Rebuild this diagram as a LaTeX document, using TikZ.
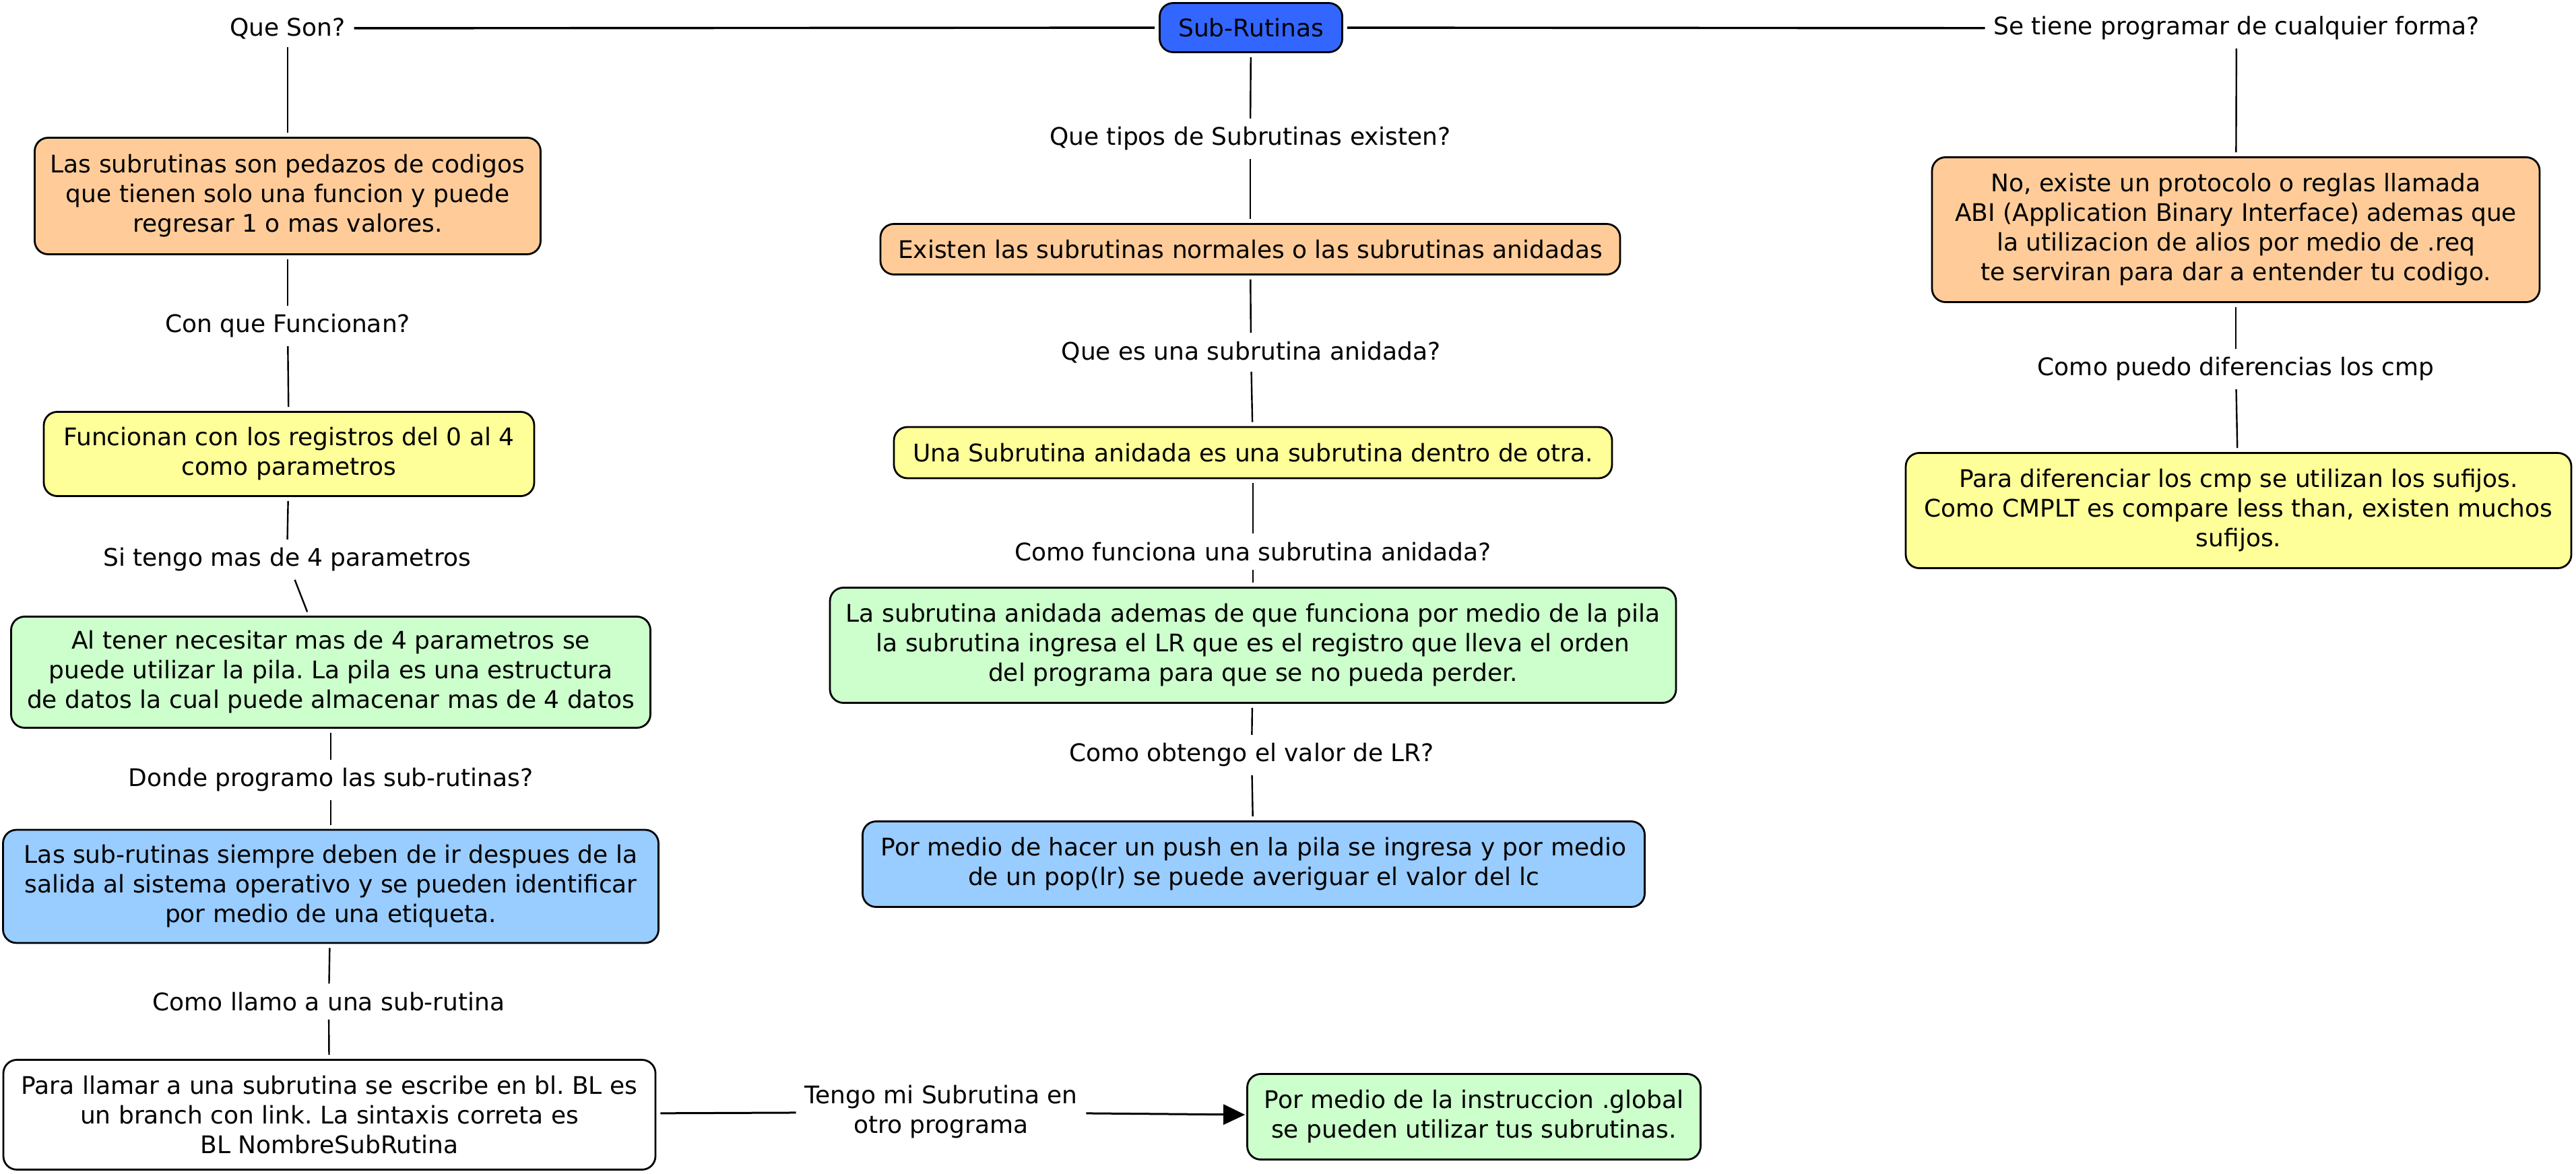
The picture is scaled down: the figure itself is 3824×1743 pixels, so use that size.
\documentclass[tikz,border=0pt]{standalone}
\usepackage{fontspec}
\setmainfont{DejaVu Sans}
\usetikzlibrary{arrows.meta}
\definecolor{cblue}{RGB}{51,102,255}
\definecolor{corange}{RGB}{255,204,153}
\definecolor{cyellow}{RGB}{255,255,153}
\definecolor{cgreen}{RGB}{204,255,204}
\definecolor{clblue}{RGB}{153,204,255}
\frenchspacing
\begin{document}
\begin{tikzpicture}[x=0.25pt,y=-0.25pt,
  every node/.style={font=\fontsize{9}{11}\selectfont},
  concept/.style={draw, line width=0.7pt, rounded corners=5pt, align=center, inner sep=2pt},
  linkph/.style={align=center, inner sep=1.5pt},
  conn/.style={line width=0.6pt, shorten <=1.5pt, shorten >=1.5pt},
  topline/.style={line width=0.85pt, shorten <=1.5pt, shorten >=1.5pt},
  arrline/.style={line width=0.75pt, shorten <=1.5pt, shorten >=1.5pt},
]
\fill[white] (0,0) rectangle (3824,1743);
\useasboundingbox (0,0) rectangle (3824,1743);

% concepts
\node[concept, fill=cblue, minimum width=67.75pt, minimum height=18.25pt] (sub) at (1857,41) {Sub-Rutinas};
\node[concept, fill=corange, minimum width=187.75pt, minimum height=43.25pt] (A) at (427,291)
  {Las subrutinas son pedazos de codigos\\que tienen solo una funcion y puede\\regresar 1 o mas valores.};
\node[concept, fill=cyellow, minimum width=182pt, minimum height=31.25pt] (B) at (429,674)
  {Funcionan con los registros del 0 al 4\\como parametros};
\node[concept, fill=cgreen, minimum width=237.25pt, minimum height=41.25pt] (C) at (491,998)
  {Al tener necesitar mas de 4 parametros se\\puede utilizar la pila. La pila es una estructura\\de datos la cual puede almacenar mas de 4 datos};
\node[concept, fill=clblue, minimum width=243.25pt, minimum height=42pt] (D) at (491,1316)
  {Las sub-rutinas siempre deben de ir despues de la\\salida al sistema operativo y se pueden identificar\\por medio de una etiqueta.};
\node[concept, fill=white, minimum width=242pt, minimum height=40.75pt] (E) at (489,1655)
  {Para llamar a una subrutina se escribe en bl. BL es\\un branch con link. La sintaxis correta es\\BL NombreSubRutina};
\node[concept, fill=cgreen, minimum width=168.25pt, minimum height=31.75pt] (F) at (2188,1658)
  {Por medio de la instruccion .global\\se pueden utilizar tus subrutinas.};
\node[concept, fill=corange, minimum width=274.5pt, minimum height=18.75pt] (G) at (1856,370)
  {Existen las subrutinas normales o las subrutinas anidadas};
\node[concept, fill=cyellow, minimum width=266.5pt, minimum height=19pt] (H) at (1860,672)
  {Una Subrutina anidada es una subrutina dentro de otra.};
\node[concept, fill=cgreen, minimum width=314pt, minimum height=42.75pt] (I) at (1860,958)
  {La subrutina anidada ademas de que funciona por medio de la pila\\la subrutina ingresa el LR que es el registro que lleva el orden\\del programa para que se no pueda perder.};
\node[concept, fill=clblue, minimum width=290.25pt, minimum height=31.75pt] (J) at (1861,1283)
  {Por medio de hacer un push en la pila se ingresa y por medio\\de un pop(lr) se puede averiguar el valor del lc};
\node[concept, fill=corange, minimum width=225.5pt, minimum height=53.75pt] (K) at (3319,341)
  {No, existe un protocolo o reglas llamada\\ABI (Application Binary Interface) ademas que\\la utilizacion de alios por medio de .req\\te serviran para dar a entender tu codigo.};
\node[concept, fill=cyellow, minimum width=247pt, minimum height=42.75pt] (L) at (3323,758)
  {Para diferenciar los cmp se utilizan los sufijos.\\Como CMPLT es compare less than, existen muchos\\sufijos.};

% linking phrases
\node[linkph] (qson) at (427,42) {Que Son?};
\node[linkph] (seti) at (3320,42) {Se tiene programar de cualquier forma?};
\node[linkph] (conq) at (427,484) {Con que Funcionan?};
\node[linkph] (sitg) at (426,831) {Si tengo mas de 4 parametros};
\node[linkph] (dond) at (491,1158) {Donde programo las sub-rutinas?};
\node[linkph] (coll) at (488,1487) {Como llamo a una sub-rutina};
\node[linkph] (teng) at (1397,1651) {Tengo mi Subrutina en\\otro programa};
\node[linkph] (quet) at (1856,206) {Que tipos de Subrutinas existen?};
\node[linkph] (quee) at (1857,523) {Que es una subrutina anidada?};
\node[linkph] (cofu) at (1860,819) {Como funciona una subrutina anidada?};
\node[linkph] (coob) at (1858,1121) {Como obtengo el valor de LR?};
\node[linkph] (copu) at (3319,548) {Como puedo diferencias los cmp};

% connectors
\draw[topline] (qson) -- (sub);
\draw[topline] (sub) -- (seti);
\draw[conn] (qson) -- (A);
\draw[conn] (A) -- (conq);
\draw[conn] (conq) -- (B);
\draw[conn] (B) -- (sitg);
\draw[conn] (sitg) -- (C);
\draw[conn] (C) -- (dond);
\draw[conn] (dond) -- (D);
\draw[conn] (D) -- (coll);
\draw[conn] (coll) -- (E);
\draw[arrline] (E) -- (teng);
\draw[arrline, shorten >=0.5pt, -{Triangle[length=8pt,width=7.5pt]}] (teng) -- (F);
\draw[conn] (sub) -- (quet);
\draw[conn] (quet) -- (G);
\draw[conn] (G) -- (quee);
\draw[conn] (quee) -- (H);
\draw[conn] (H) -- (cofu);
\draw[conn] (cofu) -- (I);
\draw[conn] (I) -- (coob);
\draw[conn] (coob) -- (J);
\draw[conn] (seti) -- (K);
\draw[conn] (K) -- (copu);
\draw[conn] (copu) -- (L);
\end{tikzpicture}
\end{document}
